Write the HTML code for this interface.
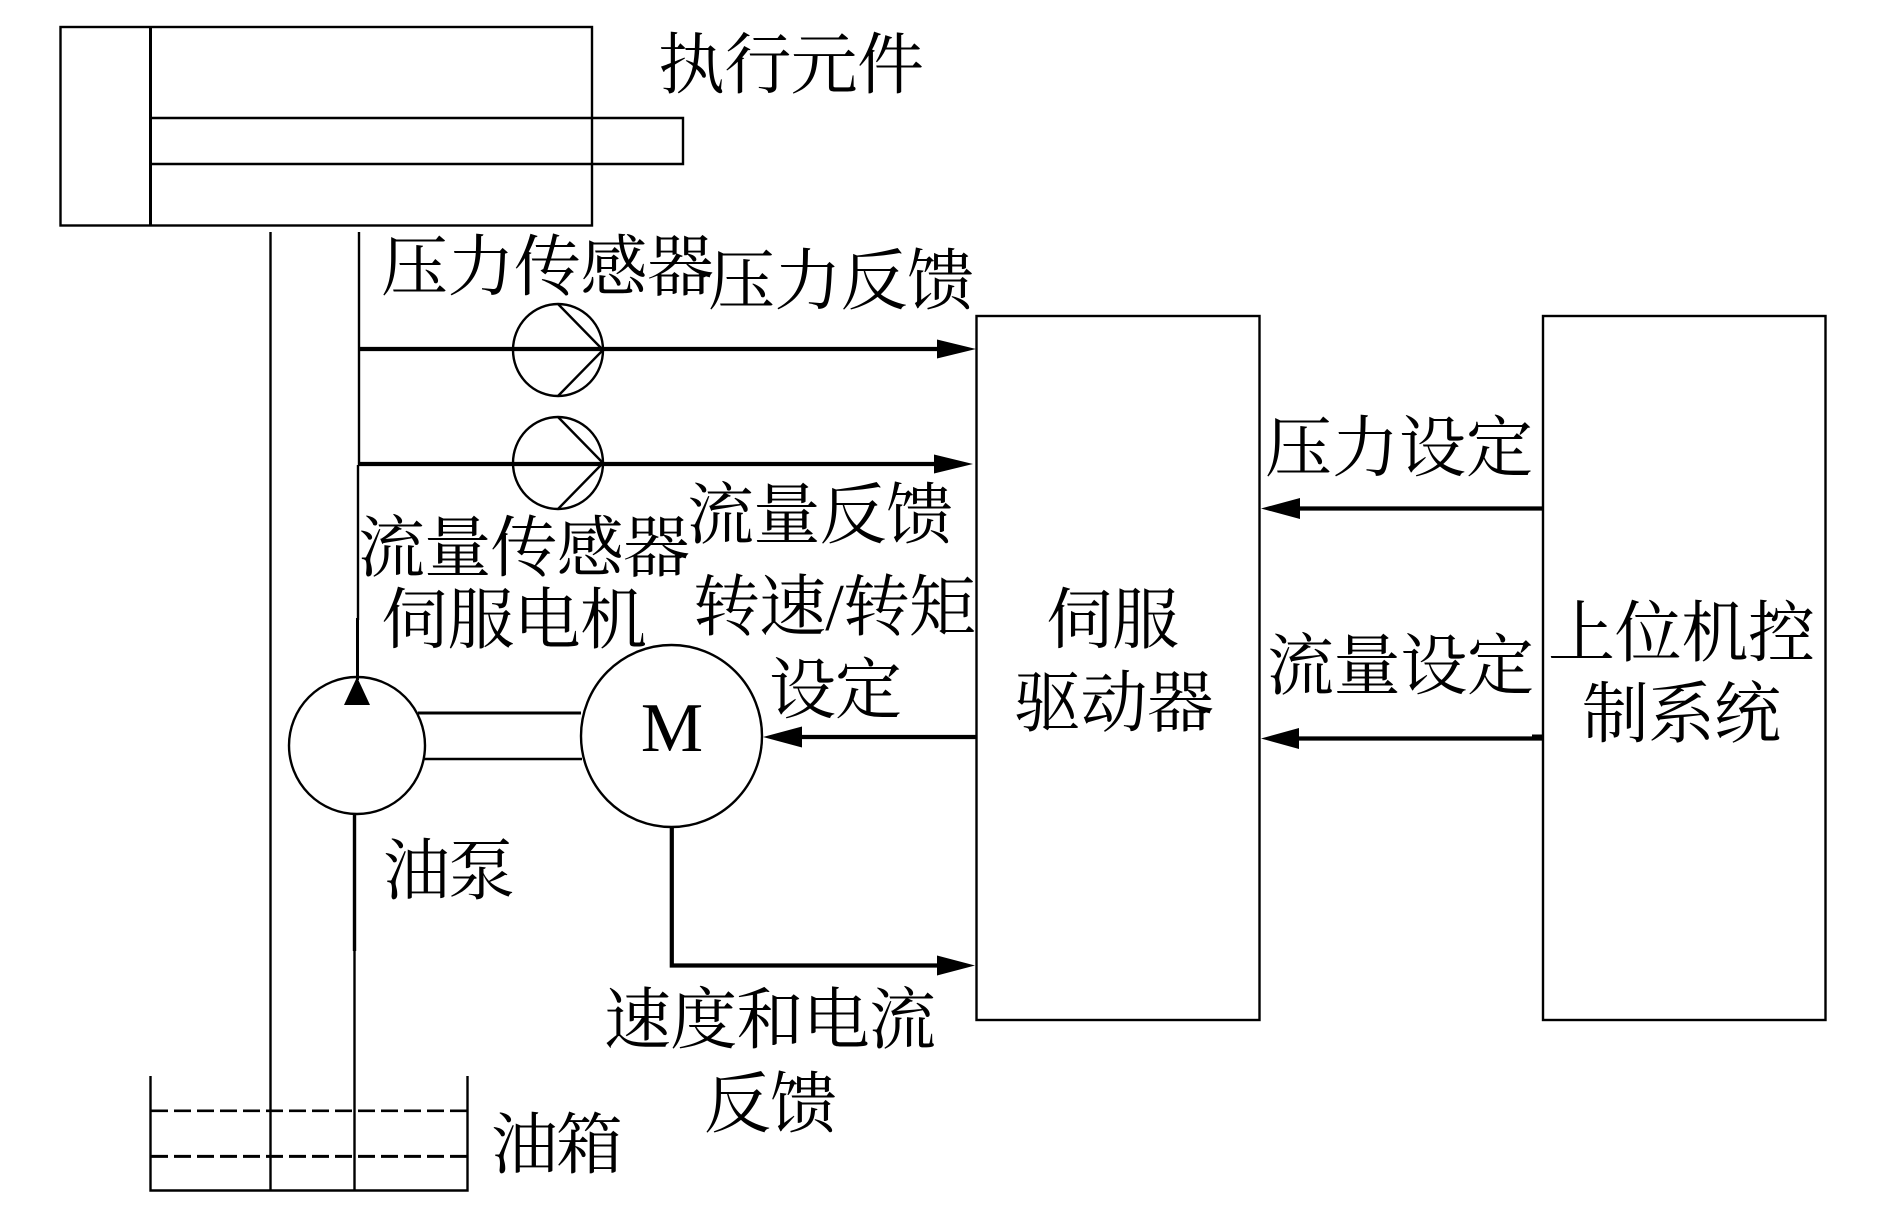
<!DOCTYPE html>
<html lang="zh">
<head>
<meta charset="utf-8">
<title>伺服液压系统</title>
<style>
html,body{margin:0;padding:0;background:#fff}
svg{display:block}
text{font-family:"Liberation Serif","Noto Serif CJK SC",serif;font-size:67px;fill:#000}
.t{stroke:#000;stroke-width:2.4;fill:none}
.b{stroke:#000;stroke-width:4.2;fill:none}
</style>
</head>
<body>
<svg width="1890" height="1221" viewBox="0 0 1890 1221" xmlns="http://www.w3.org/2000/svg">
<rect width="1890" height="1221" fill="#fff"/>
<!-- cylinder -->
<g class="t">
<rect x="60.5" y="27" width="531.5" height="198.5"/>
<line x1="150.5" y1="27" x2="150.5" y2="225.5" stroke-width="3"/>
<polyline points="150,118 683,118 683,164 150,164"/>
<!-- pipes -->
<line x1="270.5" y1="232" x2="270.5" y2="1190"/>
<line x1="359" y1="232" x2="359" y2="465"/>
<line x1="358" y1="465" x2="358" y2="620"/>
<line x1="354.5" y1="951" x2="354.5" y2="1190"/>
<!-- sensors -->
<ellipse cx="558" cy="350" rx="45" ry="46"/>
<polyline points="558,304 603,350 558,396"/>
<ellipse cx="558" cy="463" rx="45" ry="46"/>
<polyline points="558,417 603,463 558,509"/>
<!-- boxes -->
<rect x="976.5" y="316" width="283" height="704"/>
<rect x="1543" y="316" width="282.5" height="704"/>
<!-- pump + motor -->
<ellipse cx="357" cy="745.5" rx="68" ry="68.5"/>
<ellipse cx="671.5" cy="736" rx="90.5" ry="91"/>
<line x1="418" y1="713" x2="581" y2="713" stroke-width="3"/>
<line x1="424" y1="759" x2="582" y2="759"/>
<!-- tank -->
<polyline points="150.5,1076 150.5,1190.5 467.5,1190.5 467.5,1076"/>
<line x1="151" y1="1110.8" x2="467" y2="1110.8" stroke-width="2.6" stroke-dasharray="17 6"/>
<line x1="151" y1="1156.4" x2="467" y2="1156.4" stroke-width="3" stroke-dasharray="17 6"/>
</g>
<!-- thick connectors -->
<g class="b">
<line x1="360" y1="349" x2="945" y2="349"/>
<line x1="359" y1="464" x2="940" y2="464"/>
<line x1="1543" y1="508.5" x2="1295" y2="508.5"/>
<line x1="1543" y1="738.5" x2="1295" y2="738.5"/>
<line x1="1543" y1="737.5" x2="1532" y2="737.5" stroke-width="6"/>
<line x1="976" y1="737" x2="798" y2="737"/>
<polyline points="671.8,827 671.8,965.5 945,965.5"/>
<line x1="354.5" y1="814" x2="354.5" y2="951" stroke-width="3.4"/>
<line x1="357.5" y1="618" x2="357.5" y2="680" stroke-width="3"/>
</g>
<!-- arrowheads -->
<g fill="#000">
<polygon points="976,349 937,339.5 937,358.5"/>
<polygon points="973,464 934,454.5 934,473.5"/>
<polygon points="1261,508.5 1300,498 1300,519"/>
<polygon points="1261,738.5 1299,728 1299,749"/>
<polygon points="763,737 802,726.5 802,747.5"/>
<polygon points="975,965.5 937,955.5 937,975.5"/>
<polygon points="357,677 344,705 370,705"/>
</g>
<!-- labels -->
<text x="658" y="88" textLength="266">执行元件</text>
<text x="381" y="290" textLength="333">压力传感器</text>
<text x="708" y="304" textLength="266">压力反馈</text>
<text x="687" y="538" textLength="266">流量反馈</text>
<text x="358" y="571" textLength="332">流量传感器</text>
<text x="381" y="643" textLength="266">伺服电机</text>
<text x="693" y="630" textLength="283">转速/转矩</text>
<text x="769" y="713" textLength="133">设定</text>
<text x="383" y="894" textLength="132">油泵</text>
<text x="604" y="1043" textLength="332">速度和电流</text>
<text x="704" y="1127" textLength="133">反馈</text>
<text x="491" y="1168" textLength="132">油箱</text>
<text x="1265" y="471" textLength="268">压力设定</text>
<text x="1267" y="689" textLength="267">流量设定</text>
<text x="1046" y="643" textLength="133">伺服</text>
<text x="1014" y="726" textLength="200">驱动器</text>
<text x="1548" y="656" textLength="267">上位机控</text>
<text x="1582" y="737" textLength="199">制系统</text>
<text x="672" y="751" text-anchor="middle" style="font-size:70px">M</text>
</svg>
</body>
</html>
